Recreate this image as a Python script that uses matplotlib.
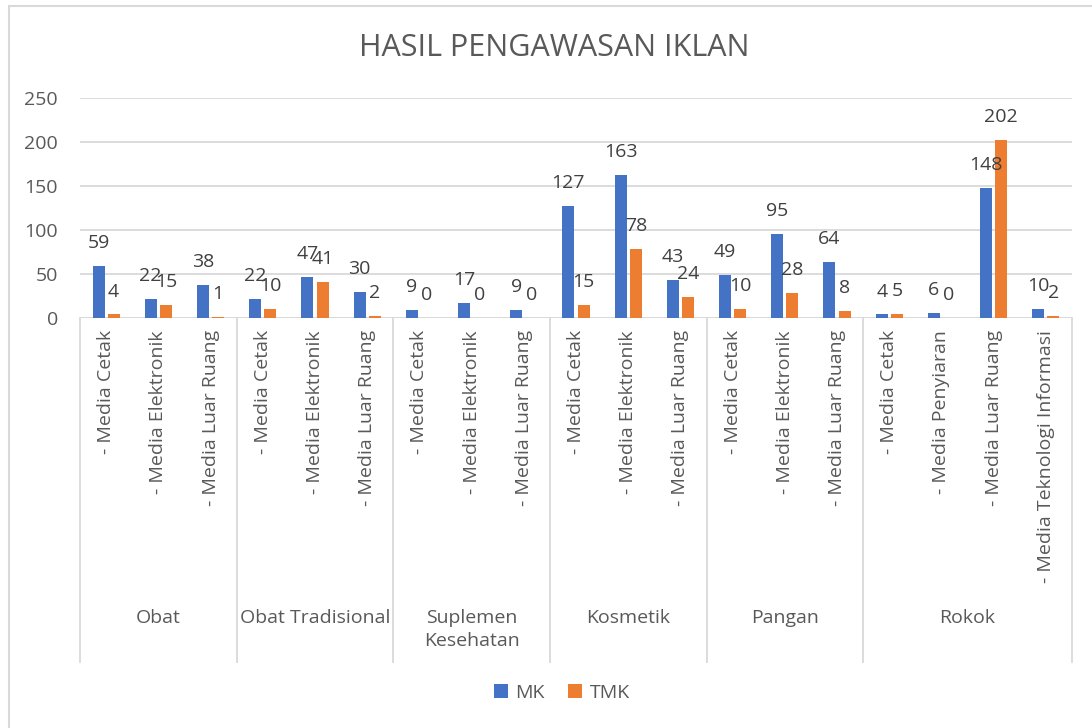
import matplotlib.pyplot as plt
import matplotlib.transforms as mtransforms
from matplotlib.patches import Rectangle
import numpy as np

plt.rcParams["font.family"] = ["Open Sans", "DejaVu Sans"]

# data
groups = ["Obat", "Obat Tradisional", "Suplemen\nKesehatan", "Kosmetik", "Pangan", "Rokok"]
group_sizes = [3, 3, 3, 3, 3, 4]
subcats = ["- Media Cetak", "- Media Elektronik", "- Media Luar Ruang",
           "- Media Cetak", "- Media Elektronik", "- Media Luar Ruang",
           "- Media Cetak", "- Media Elektronik", "- Media Luar Ruang",
           "- Media Cetak", "- Media Elektronik", "- Media Luar Ruang",
           "- Media Cetak", "- Media Elektronik", "- Media Luar Ruang",
           "- Media Cetak", "- Media Penyiaran", "- Media Luar Ruang",
           "- Media Teknologi Informasi"]
mk = [59, 22, 38, 22, 47, 30, 9, 17, 9, 127, 163, 43, 49, 95, 64, 4, 6, 148, 10]
tmk = [4, 15, 1, 10, 41, 2, 0, 0, 0, 15, 78, 24, 10, 28, 8, 5, 0, 202, 2]

blue = "#4472C4"
orange = "#ED7D31"
txt = "#595959"
grid = "#D9D9D9"

W, H = 1092, 728
fig = plt.figure(figsize=(W / 100, H / 100), dpi=100)
ax = fig.add_axes([80 / W, 1 - 318 / H, 992 / W, 220 / H])

# chart border (only top and left visible in the reference)
fig.patches.append(Rectangle((9 / W, -0.1), 1.2, 1 - 6 / H + 0.1, transform=fig.transFigure,
                             fill=False, edgecolor=grid, lw=1.5))

x = np.arange(len(subcats))
bw = 0.23
off = 0.145
b1 = ax.bar(x - off, mk, bw, color=blue, label="MK", zorder=3)
b2 = ax.bar(x + off, tmk, bw, color=orange, label="TMK", zorder=3)

for bars, vals in ((b1, mk), (b2, tmk)):
    for r, v in zip(bars, vals):
        ax.annotate(str(v), (r.get_x() + r.get_width() / 2, v), xytext=(0, 16.5),
                    textcoords="offset points", ha="center", va="center",
                    fontsize=14, color="#404040", zorder=4)

ax.set_xlim(-0.5, len(subcats) - 0.5)
ax.set_ylim(0, 250)
ax.set_yticks(range(0, 251, 50))
ax.tick_params(axis="y", length=0, pad=16, labelsize=14, labelcolor=txt)
ax.set_xticks([])
ax.grid(axis="y", color=grid, lw=1.3, zorder=0)
for s in ax.spines.values():
    s.set_visible(False)
ax.axhline(0, color=grid, lw=1.3, zorder=2)

trans = mtransforms.blended_transform_factory(ax.transData, ax.transAxes)

# subcategory labels
for i, lab in enumerate(subcats):
    ax.text(i, -12 / 220, lab, transform=trans, rotation=90, ha="center", va="top",
            fontsize=14, color=txt)

# group labels and separators
edges = np.concatenate([[0], np.cumsum(group_sizes)]) - 0.5
for e in edges:
    ax.plot([e, e], [0, -344 / 220], transform=trans, color=grid, lw=1.3, clip_on=False)
for g, a, b in zip(groups, edges[:-1], edges[1:]):
    ax.text((a + b) / 2, -291 / 220, g, transform=trans, ha="center", va="top",
            fontsize=14, color=txt, linespacing=1.35)

fig.text(554 / W, 1 - 48 / H, "HASIL PENGAWASAN IKLAN", ha="center", va="center",
         fontsize=22, color=txt)

leg = fig.legend(handles=[b1, b2], loc="center", bbox_to_anchor=(562 / W, 1 - 693 / H),
                 ncol=2, frameon=False, fontsize=14, handlelength=0.7, handleheight=0.7,
                 handletextpad=0.4, columnspacing=1.2)
for t in leg.get_texts():
    t.set_color(txt)

fig.savefig("out.png", dpi=100)
